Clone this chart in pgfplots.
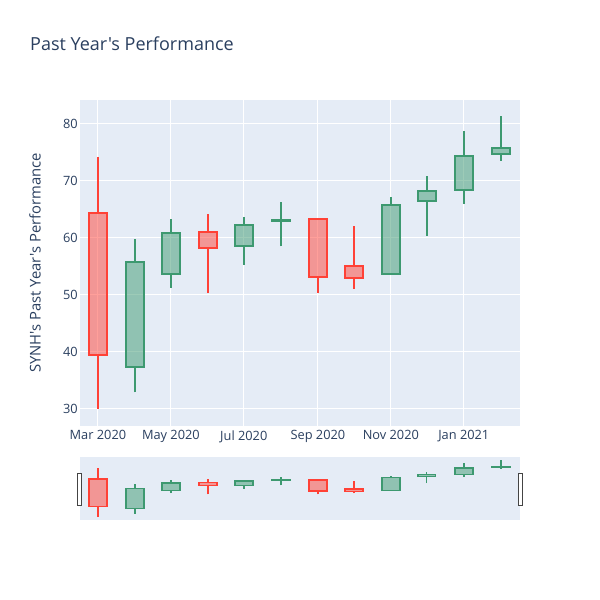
\documentclass[border=0pt]{standalone}
\usepackage{fontspec}
\setmainfont{Open Sans}[Ligatures=TeXOff]
\usepackage{pgfplots}
\pgfplotsset{compat=1.18}
\definecolor{inc}{HTML}{3D9970}
\definecolor{dec}{HTML}{FF4136}
\definecolor{bgc}{HTML}{E5ECF6}
\definecolor{txt}{HTML}{2A3F5F}
\definecolor{hnd}{HTML}{444444}

% colour, date (days since 1 Mar 2020), low, min(open,close), max(open,close), high
\newcommand{\candle}[6]{%
\pgfmathsetmacro\xl{#2-7.5}\pgfmathsetmacro\xr{#2+7.5}%
\addplot[draw=#1] coordinates {(#2,#3) (#2,#4)};
\addplot[draw=#1] coordinates {(#2,#5) (#2,#6)};
\addplot[draw=#1, fill=#1, fill opacity=0.5, draw opacity=1] coordinates {(\xl,#4) (\xr,#4) (\xr,#5) (\xl,#5)} -- cycle;
}

\newcommand{\allcandles}{%
\candle{dec}{0}{30.0}{39.4}{64.3}{74.2}
\candle{inc}{31}{32.9}{37.3}{55.7}{59.8}
\candle{inc}{61}{51.3}{53.6}{60.8}{63.3}
\candle{dec}{92}{50.3}{58.3}{61.0}{64.2}
\candle{inc}{122}{55.3}{58.5}{62.3}{63.6}
\candle{inc}{153}{58.5}{62.9}{63.1}{66.3}
\candle{dec}{184}{50.3}{53.2}{63.3}{63.3}
\candle{dec}{214}{51.1}{53.0}{55.1}{62.1}
\candle{inc}{245}{53.7}{53.7}{65.8}{67.2}
\candle{inc}{275}{60.4}{66.5}{68.2}{70.9}
\candle{inc}{306}{66.0}{68.4}{74.4}{78.7}
\candle{inc}{337}{73.5}{74.8}{75.8}{81.4}
}

\begin{document}
\begin{tikzpicture}
\path[fill=white] (0pt,0pt) rectangle (600pt,600pt);
\node[anchor=west, text=txt, font=\fontsize{18}{21}\selectfont, inner sep=0pt] at (30pt,556pt) {Past Year's Performance};

\begin{axis}[
  scale only axis, width=440pt, height=326pt,
  anchor=south west, at={(80pt,174pt)},
  xmin=-15, xmax=353, ymin=27.0, ymax=84.2,
  axis background/.style={fill=bgc},
  axis line style={draw=none},
  major tick length=0pt,
  grid=major, grid style={white, line width=1pt},
  xtick={0,61,122,184,245,306},
  xticklabels={Mar 2020, May 2020, Jul 2020, Sep 2020, Nov 2020, Jan 2021},
  ytick={30,40,50,60,70,80},
  /pgf/number format/assume math mode=true,
  ticklabel style={text=txt, font=\fontsize{12.8}{15}\selectfont},
  yticklabel style={inner sep=1pt, xshift=-1pt},
  xticklabel style={yshift=-1pt},
  ylabel={SYNH's Past Year's Performance},
  every axis y label/.style={at={(axis description cs:-0.102,0.5)}, rotate=90, anchor=center, text=txt, font=\fontsize{14.8}{17}\selectfont},
  every axis plot/.append style={line width=2pt},
]
\allcandles
\end{axis}

\begin{axis}[
  scale only axis, width=440pt, height=63pt,
  anchor=south west, at={(80pt,80pt)},
  xmin=-15, xmax=353, ymin=27.0, ymax=84.2,
  axis background/.style={fill=bgc},
  axis line style={draw=none},
  xtick=\empty, ytick=\empty,
  every axis plot/.append style={line width=1.5pt},
]
\allcandles
\end{axis}

\path[draw=hnd, line width=1pt, fill=white] (77.3pt,94.7pt) rectangle (81.7pt,126.7pt);
\path[draw=hnd, line width=1pt, fill=white] (518.3pt,94.7pt) rectangle (522.7pt,126.7pt);
\end{tikzpicture}
\end{document}
